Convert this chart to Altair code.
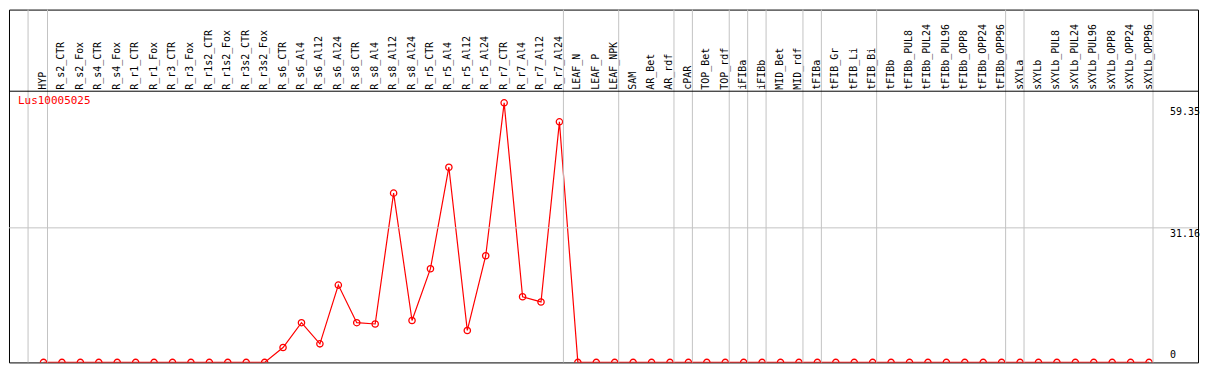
import altair as alt
import pandas as pd

# ---------------- data ----------------
categories = [
    "HYP", "R_s2_CTR", "R_s2_Fox", "R_s4_CTR", "R_s4_Fox", "R_r1_CTR", "R_r1_Fox",
    "R_r3_CTR", "R_r3_Fox", "R_r1s2_CTR", "R_r1s2_Fox", "R_r3s2_CTR", "R_r3s2_Fox",
    "R_s6_CTR", "R_s6_Al4", "R_s6_Al12", "R_s6_Al24", "R_s8_CTR", "R_s8_Al4",
    "R_s8_Al12", "R_s8_Al24", "R_r5_CTR", "R_r5_Al4", "R_r5_Al12", "R_r5_Al24",
    "R_r7_CTR", "R_r7_Al4", "R_r7_Al12", "R_r7_Al24", "LEAF_N", "LEAF_P", "LEAF_NPK",
    "SAM", "AR_Bet", "AR_rdf", "cPAR", "TOP_Bet", "TOP_rdf", "iFIBa", "iFIBb",
    "MID_Bet", "MID_rdf", "tFIBa", "tFIB_Gr", "tFIB_Li", "tFIB_Bi", "tFIBb",
    "tFIBb_PUL8", "tFIBb_PUL24", "tFIBb_PUL96", "tFIBb_OPP8", "tFIBb_OPP24",
    "tFIBb_OPP96", "sXYLa", "sXYLb", "sXYLb_PUL8", "sXYLb_PUL24", "sXYLb_PUL96",
    "sXYLb_OPP8", "sXYLb_OPP24", "sXYLb_OPP96",
]
expression = [
    0, 0, 0, 0, 0, 0, 0, 0, 0, 0, 0, 0, 0,
    3.45, 9.2, 4.3, 17.9, 9.2, 8.9, 39.2, 9.7, 21.7, 45.2, 7.4, 24.7,
    60.1, 15.2, 14.0, 55.7,
    0, 0, 0, 0, 0, 0, 0, 0, 0, 0, 0, 0, 0, 0, 0, 0, 0, 0, 0, 0, 0, 0, 0,
    0, 0, 0, 0, 0, 0, 0, 0, 0,
]
separators_after = [
    "HYP", "R_r7_Al24", "LEAF_NPK", "AR_rdf", "cPAR", "TOP_rdf", "iFIBa", "iFIBb",
    "MID_rdf", "tFIBa", "tFIB_Bi", "tFIBb_OPP96", "sXYLa", "sXYLb_OPP96",
]
upper_ticks = [59.35, 31.16]
upper_tick_labels = ["59.35", "31.16"]
zero_tick = [0]
zero_tick_label = ["0"]
grid_values = [31.16]
plot_top = [62.8]
gene = ["Lus10005025"]

# ---------------- style ----------------
W, H = 1193, 354
FONT = "DejaVu Sans Mono"
RED = "#ff0000"
GRAY = "#c3c3c3"

df = pd.DataFrame({"cat": categories, "value": expression, "idx": list(range(len(categories)))})
seps = pd.DataFrame({"cat": separators_after})
first = pd.DataFrame({"cat": categories[:1]})
up_ticks = pd.DataFrame({"v": upper_ticks, "label": upper_tick_labels})
z_ticks = pd.DataFrame({"v": zero_tick, "label": zero_tick_label})
grid = pd.DataFrame({"v": grid_values})
top_df = pd.DataFrame({"v": plot_top})
title_df = pd.DataFrame({"t": gene})

xscale = alt.Scale(type="point", domain=categories, range=[25.4, 1153.1])
yscale = alt.Scale(domain=[0, 81.7], nice=False, zero=True)

x_enc = alt.X(
    "cat:N", scale=xscale,
    axis=alt.Axis(
        orient="top", offset=-82, title=None, labelAngle=-90, labelAlign="left",
        labelBaseline="middle", ticks=False, domain=False,
        labelFont=FONT, labelFontSize=10, labelColor="black", labelPadding=2,
        labelOverlap=False, labelBound=False, grid=False, labelOffset=-1,
    ),
)
y_enc = alt.Y("value:Q", scale=yscale, axis=None)

sep_rules = alt.Chart(seps).mark_rule(color=GRAY, strokeWidth=1, xOffset=4).encode(
    x=alt.X("cat:N")
)
first_rule = alt.Chart(first).mark_rule(color=GRAY, strokeWidth=1, xOffset=-15.5).encode(
    x=alt.X("cat:N")
)
hgrid = alt.Chart(grid).mark_rule(color=GRAY, strokeWidth=1).encode(y=alt.Y("v:Q"))
top_line = alt.Chart(top_df).mark_rule(color="black", strokeWidth=1).encode(y=alt.Y("v:Q"))

line = alt.Chart(df).mark_line(color=RED, strokeWidth=1.2, clip=True).encode(
    x=x_enc, y=y_enc, order=alt.Order("idx:Q")
)
points = alt.Chart(df).mark_point(
    shape="circle", filled=False, color=RED, size=40, strokeWidth=1.3, clip=True, opacity=1
).encode(x=x_enc, y=y_enc)

up_labels = alt.Chart(up_ticks).mark_text(
    align="left", baseline="top", font=FONT, fontSize=10, color="black", dy=1
).encode(x=alt.value(1165), y=alt.Y("v:Q"), text="label:N")
zero_label = alt.Chart(z_ticks).mark_text(
    align="left", baseline="bottom", font=FONT, fontSize=10, color="black", dy=-2
).encode(x=alt.value(1165), y=alt.Y("v:Q"), text="label:N")

title = alt.Chart(title_df).mark_text(
    align="left", baseline="top", font=FONT, fontSize=11, color=RED
).encode(x=alt.value(9), y=alt.value(86), text="t:N")

chart = (
    alt.layer(line, points, first_rule, sep_rules, hgrid, top_line, up_labels, zero_label, title)
    .properties(width=W, height=H, padding=0, background="white")
    .configure_view(stroke="black", strokeWidth=1)
)

chart.save("out.html", embed_options={"renderer": "svg", "actions": False})
